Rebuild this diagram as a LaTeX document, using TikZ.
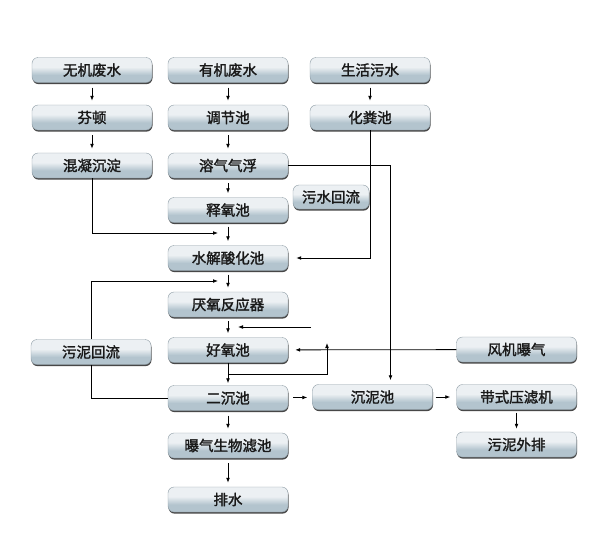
\documentclass[tikz,border=0pt]{standalone}
\usepackage{fontspec}
\setmainfont{Noto Sans CJK SC}[FakeBold=1.8]
\usetikzlibrary{arrows.meta,shadows}

\definecolor{boxhigh}{HTML}{ECF0F3}
\definecolor{boxlow}{HTML}{B3C4CE}
\definecolor{boxline}{HTML}{8E9CA5}
\pgfdeclareverticalshading{boxshade}{100bp}{color(0bp)=(boxlow); color(40bp)=(boxlow); color(56bp)=(boxhigh); color(100bp)=(boxhigh)}

\tikzset{
	proc/.style={rounded corners=6pt, shading=boxshade, draw=boxline, line width=0.4pt,
		minimum width=120pt, minimum height=25pt, inner sep=0pt,
		font=\fontsize{14.5}{16}\selectfont, text=black!90,
		drop shadow={shadow xshift=0.5pt, shadow yshift=-1.6pt, fill=black!80, opacity=0.9}},
	smallproc/.style={proc, minimum width=76pt, minimum height=24pt},
	flow/.style={line width=0.8pt, -{Latex[length=5pt,width=3.8pt]}},
	link/.style={line width=0.8pt}
}

\begin{document}
\begin{tikzpicture}[x=1pt,y=-1pt]
	\useasboundingbox[fill=white] (0,0) rectangle (599,542);
	
	%three inlets
	\node[proc] (wuji) at (92,70) {无机废水};
	\node[proc] (youji) at (228,70) {有机废水};
	\node[proc] (shenghuo) at (370,70) {生活污水};
	
	\node[proc] (fenton) at (92,117.5) {芬顿};
	\node[proc] (tiaojie) at (228,117.5) {调节池};
	\node[proc] (huafen) at (370,117.5) {化粪池};
	
	\node[proc] (hunning) at (92,165.5) {混凝沉淀};
	\node[proc] (rongqi) at (228,165.5) {溶气气浮};
	
	\node[proc] (shiyang) at (228,210) {释氧池};
	\node[smallproc] (wshuiliu) at (331,197) {污水回流};
	
	%main line
	\node[proc] (shuijie) at (228,258) {水解酸化池};
	\node[proc] (yanyang) at (228,304.5) {厌氧反应器};
	\node[proc] (haoyang) at (228,350) {好氧池};
	\node[proc] (erchen) at (228,398) {二沉池};
	\node[proc] (baoqi) at (228,445.5) {曝气生物滤池};
	\node[proc] (paishui) at (228,499.5) {排水};
	
	\node[proc] (wnhuiliu) at (91,352) {污泥回流};
	
	%sludge side
	\node[proc] (chenni) at (372.5,397) {沉泥池};
	\node[proc] (fengji) at (516.5,349.5) {风机曝气};
	\node[proc] (daishi) at (516.5,397) {带式压滤机};
	\node[proc] (paiwai) at (516.5,444.5) {污泥外排};
	
	%free ends of the side arrows
	\coordinate (j1) at (218,233);
	\coordinate (j2) at (218,281);
	\coordinate (j3) at (311,327);
	\coordinate (j4) at (238,327);
	\coordinate (j5) at (228,374);
	\coordinate (j6) at (327,343);
	
	%vertical arrows
	\draw[flow,shorten <=5pt,shorten >=4pt] (wuji) -- (fenton);
	\draw[flow,shorten <=5pt,shorten >=4pt] (fenton) -- (hunning);
	\draw[flow,shorten <=5pt,shorten >=4pt] (youji) -- (tiaojie);
	\draw[flow,shorten <=5pt,shorten >=4pt] (tiaojie) -- (rongqi);
	\draw[flow,shorten <=5pt,shorten >=4pt] (rongqi) -- (shiyang);
	\draw[flow,shorten <=4pt,shorten >=4pt] (shiyang) -- (shuijie);
	\draw[flow,shorten <=4pt,shorten >=4pt] (shuijie) -- (yanyang);
	\draw[flow,shorten <=4pt,shorten >=4pt] (yanyang) -- (haoyang);
	\draw[flow,shorten >=2pt] (haoyang) -- (erchen);
	\draw[flow,shorten <=5pt,shorten >=4pt] (erchen) -- (baoqi);
	\draw[flow,shorten <=5pt,shorten >=4pt] (baoqi) -- (paishui);
	\draw[flow,shorten <=5pt,shorten >=4pt] (shenghuo) -- (huafen);
	\draw[flow,shorten <=3pt,shorten >=3pt] (daishi) -- (paiwai);
	
	%horizontal arrows
	\draw[flow,shorten <=5pt,shorten >=5pt] (erchen) -- (chenni);
	\draw[flow,shorten <=3pt,shorten >=6pt] (chenni) -- (daishi);
	\draw[flow,shorten >=7pt] (fengji) -- (haoyang);
	\draw[flow] (j3) -- (j4);
	
	%bends
	\draw[flow] (hunning) |- (j1);
	\draw[flow] (wnhuiliu) |- (j2);
	\draw[link] (wnhuiliu) |- (erchen);
	\draw[flow,shorten >=8pt] (huafen) |- (shuijie);
	\draw[flow,shorten >=4pt] (rongqi) -| ([xshift=18pt]chenni.north);
	\draw[flow] (j5) -| (j6);
	
\end{tikzpicture}
\end{document}
